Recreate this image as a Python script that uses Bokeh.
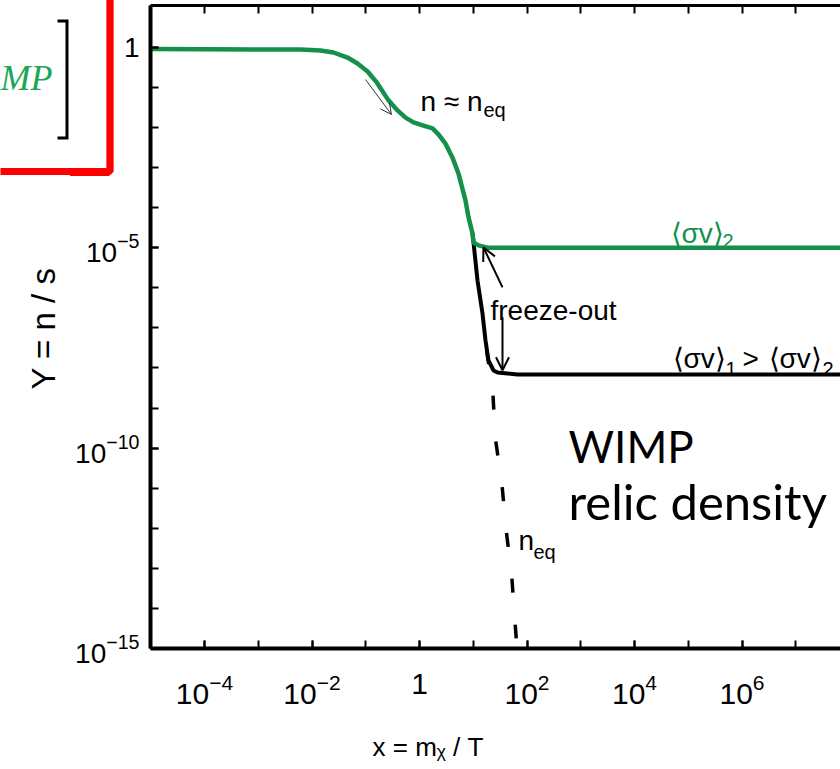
import math
from bokeh.plotting import figure
from bokeh.layouts import row
from bokeh.models import (Range1d, LogAxis, FixedTicker, Label, Arrow, OpenHead)
from bokeh.core.properties import value
from bokeh.embed import file_html
from bokeh.resources import INLINE

# ---------------- data ----------------
# green curve: <sigma v>_2
x_green = [1e-5, 6.11e-3, 0.0144, 0.0251, 0.0457, 0.0703, 0.108, 0.158, 0.265, 0.390,
           0.550, 0.773, 1.186, 1.746, 2.254, 3.048, 4.111, 5.321, 7.178, 8.166,
           9.683, 10.12, 12.53, 18.41, 1e8]
y_green = [0.912, 0.891, 0.841, 0.750, 0.562, 0.398, 0.251, 0.138, 0.0479, 0.0269,
           0.0178, 0.0135, 0.0112, 0.00955, 0.00676, 0.00398, 0.00178, 7.08e-4,
           1.51e-4, 5.75e-5, 2.29e-5, 1.35e-5, 1.15e-5, 1.01e-5, 1.0e-5]
# black curve: <sigma v>_1 > <sigma v>_2
x_black = [9.683, 10.12, 12.0, 14.86, 16.9, 19.2, 23.8, 28.3, 66.5, 1e8]
y_black = [2.29e-5, 1.35e-5, 1.53e-6, 2.29e-7, 4.85e-8, 1.55e-8, 8.7e-9, 7.7e-9,
           6.9e-9, 6.9e-9]
# dashed curve: n_eq
x_neq = [17.7, 23.1, 25.6, 34.0, 41.0, 52.1, 60.3, 65.2]
y_neq = [2.78e-8, 2.69e-9, 1.86e-10, 1.35e-11, 8.9e-13, 6.2e-14, 3.9e-15, 1.0e-15]

x_major = [1e-4, 1e-2, 1.0, 1e2, 1e4, 1e6]
x_minor = [1e-5, 1e-4, 1e-3, 1e-2, 1e-1, 1.0, 1e1, 1e2, 1e3, 1e4, 1e5, 1e6, 1e7]
y_major = [1e-15, 1e-10, 1e-5, 1.0]
y_minor = [1e-15, 1e-14, 1e-13, 1e-12, 1e-11, 1e-10, 1e-9, 1e-8, 1e-7, 1e-6,
           1e-5, 1e-4, 1e-3, 1e-2, 1e-1, 1.0]

GREEN = "#14904a"
SANS = "Liberation Sans"

# page geometry of the main frame
FX0, FX1 = 150, 840      # left / right (px)
FY_TOP, FY0 = 5, 648     # top / bottom (px)
DEC_X, DEC_Y = 53.75, 40.06  # px per decade
X_ONE_PX, Y_ONE_PX = 419, 47  # where x = 1 and Y = 1 sit
LEFT_W = 70              # width of the strip left of the main figure


def xval(px):
    return 10 ** ((px - X_ONE_PX) / DEC_X)


def yval(py):
    return 10 ** (-(py - Y_ONE_PX) / DEC_Y)


# ---------------- left strip (cut-off slide box + y title) ----------------
left = figure(width=LEFT_W, height=769, x_range=Range1d(0, LEFT_W),
              y_range=Range1d(FY0, FY_TOP),
              output_backend="svg", toolbar_location=None, min_border=0,
              min_border_top=FY_TOP, min_border_bottom=769 - FY0,
              x_axis_location=None, y_axis_location=None)
left.outline_line_color = None
left.grid.visible = False
left.segment(x0=[-10], y0=[171], x1=[80], y1=[171], line_color="red", line_width=7)
left.line([57, 66.5, 66.5, 57], [20.5, 20.5, 137.5, 137.5], line_color="black",
          line_width=3, line_join="miter")
left.text(x=[52], y=[77], text=["MP"], text_font=value("Liberation Serif"),
          text_font_style="italic", text_font_size="36px", text_color="#1ea657",
          text_align="right", text_baseline="alphabetic")
left.text(x=[43], y=[328], text=["Y = n / s"], angle=math.pi / 2,
          text_font=value(SANS), text_font_size="33px", text_color="black",
          text_align="center", text_baseline="middle")

# ---------------- main plot ----------------
p = figure(width=840 - LEFT_W, height=769, x_axis_type="log", y_axis_type="log",
           x_range=Range1d(xval(FX0), xval(FX1)), y_range=Range1d(yval(FY0), yval(FY_TOP)),
           output_backend="svg", toolbar_location=None,
           min_border_left=FX0 - LEFT_W, min_border_right=0, min_border_top=FY_TOP,
           min_border_bottom=769 - FY0)
p.outline_line_color = None
p.grid.visible = False

for ax, major, minor in ((p.xaxis[0], x_major, x_minor), (p.yaxis[0], y_major, y_minor)):
    ax.ticker = FixedTicker(ticks=major, minor_ticks=minor)
    ax.major_label_overrides = {1: "1"}
    ax.axis_line_width = 4
    ax.major_tick_in = 8
    ax.major_tick_out = 0
    ax.minor_tick_in = 8
    ax.minor_tick_out = 0
    ax.major_tick_line_width = 2
    ax.minor_tick_line_width = 2
    ax.major_label_text_font = SANS
    ax.major_label_text_color = "black"
p.yaxis[0].major_label_text_font_size = "28px"
p.yaxis[0].major_label_standoff = 11
p.xaxis[0].major_label_text_font_size = "30px"
p.xaxis[0].major_label_standoff = 25

top = LogAxis(ticker=FixedTicker(ticks=x_minor),
              major_label_overrides={t: "" for t in x_minor},
              major_label_text_font_size="1px", major_label_standoff=0,
              axis_line_width=3, major_tick_in=8, major_tick_out=0,
              major_tick_line_width=2, minor_tick_in=0, minor_tick_out=0)
p.add_layout(top, "above")

# x title (in the bottom border panel, so it is not clipped to the frame)
p.add_layout(Label(x=372 - FX0, y=-10, x_units="screen", y_units="screen",
                   text="x = mᵪ / T", text_font=SANS, text_font_size="26px",
                   text_color="black", text_align="left",
                   text_baseline="alphabetic"), "below")

# red slide box: right edge (left border panel) and bottom edge (top panel),
# drawn as bordered, nearly empty labels so they are not clipped to the frame
p.add_layout(Label(x=108.5 - 71, y=FY0 - 171, x_units="screen", y_units="screen",
                   text=" ", text_font_size="1px", text_align="center",
                   text_baseline="bottom",
                   padding=dict(left=0, right=0, top=200, bottom=0),
                   border_line_color="red", border_line_width=7,
                   background_fill_color=None), "left")
p.add_layout(Label(x=108.5 - FX0, y=4.5 - 171, x_units="screen", y_units="screen",
                   text=" ", text_font_size="1px", text_align="right",
                   text_baseline="middle",
                   padding=dict(left=60, right=0, top=0, bottom=0),
                   border_line_color="red", border_line_width=7,
                   background_fill_color=None), "above")

# curves
p.line(x_neq, y_neq, line_color="black", line_width=3.5, line_dash="14 32")
p.line(x_black, y_black, line_color="black", line_width=4)
p.line(x_green, y_green, line_color=GREEN, line_width=4.5)

# arrows
p.add_layout(Arrow(end=OpenHead(size=11, line_width=1, line_color="#333333"),
                   x_start=0.0989, y_start=0.159, x_end=0.301, y_end=0.0213,
                   line_width=1, line_color="#333333"))
p.add_layout(Arrow(end=OpenHead(size=13, line_width=2),
                   x_start=35.0, y_start=1.03e-6, x_end=15.5, y_end=1.02e-5,
                   line_width=2))
p.add_layout(Arrow(end=OpenHead(size=13, line_width=2),
                   x_start=35.0, y_start=1.85e-7, x_end=35.0, y_end=8.8e-9,
                   line_width=2))


def lab(text, px, py, size, color="black", font=SANS):
    p.add_layout(Label(x=px - FX0, y=FY0 - py, x_units="screen", y_units="screen",
                       text=text, text_font=font, text_font_size=f"{size}px",
                       text_color=color, text_align="left",
                       text_baseline="alphabetic"))


lab("n ≈ n", 420, 101, 28)
lab("eq", 483, 109, 20)
lab("freeze-out", 490, 310, 28)
lab("⟨σv⟩", 670, 233, 28, color=GREEN)
lab("2", 722, 240, 20, color=GREEN)
lab("⟨σv⟩", 672, 358, 28)
lab("1", 725, 368, 20)
lab(">", 742, 358, 28)
lab("⟨σv⟩", 768, 358, 28)
lab("2", 822, 368, 20)
lab("n", 518, 540, 28)
lab("eq", 533, 551, 20)
lab("WIMP", 568, 445, 44, font="Lato")
lab("relic density", 568, 500, 49, font="Lato")

open("out.html", "w").write(file_html(row(left, p), INLINE))
